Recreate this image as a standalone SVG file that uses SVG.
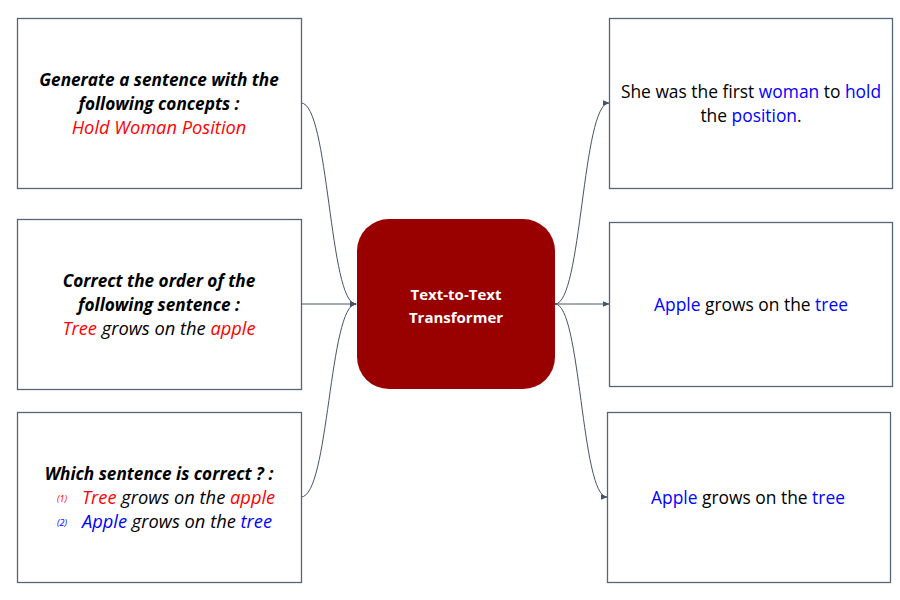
<svg xmlns="http://www.w3.org/2000/svg" width="900" height="600" viewBox="0 0 900 600">
<defs>
<style>
.box{fill:#fff;stroke:#56657a;stroke-width:1.3}
.t{font-family:"Open Sans","Liberation Sans",sans-serif;font-size:17.4px;fill:#000}
.q{font-family:"Open Sans","Liberation Sans",sans-serif;font-size:18.3px;font-style:italic;fill:#000}
.b{font-weight:bold;font-size:17.2px}
.r{fill:#ff0000}
.bl{fill:#0000ff}
.c{fill:none;stroke:#44546a;stroke-width:1}
</style>
<marker id="ah" viewBox="0 0 10 10" refX="9" refY="5" markerWidth="7" markerHeight="7" orient="auto" markerUnits="userSpaceOnUse">
<path d="M0,1 L10,5 L0,9 z" fill="#44546a"/>
</marker>
</defs>
<rect width="900" height="600" fill="#fff"/>
<g id="connectors">
<path class="c" d="M301,103 C329,103 329,304 356,304" marker-end="url(#ah)"/>
<path class="c" d="M301,304 L356,304" marker-end="url(#ah)"/>
<path class="c" d="M301,497 C329,497 329,304 356,304" marker-end="url(#ah)"/>
<path class="c" d="M555,304 C582,304 582,103 609,103" marker-end="url(#ah)"/>
<path class="c" d="M555,304 L609,304" marker-end="url(#ah)"/>
<path class="c" d="M555,304 C581,304 581,497 607,497" marker-end="url(#ah)"/>
</g>
<g id="in1">
<rect class="box" x="17.5" y="18.5" width="284" height="170"/>
<text class="q b" x="159" y="86" text-anchor="middle">Generate a sentence with the</text>
<text class="q b" x="159" y="110" text-anchor="middle">following concepts :</text>
<text class="q r" x="159" y="134" text-anchor="middle">Hold Woman Position</text>
</g>
<g id="in2">
<rect class="box" x="17.5" y="219.5" width="284" height="170"/>
<text class="q b" x="159" y="287" text-anchor="middle">Correct the order of the</text>
<text class="q b" x="159" y="311" text-anchor="middle">following sentence :</text>
<text class="q" x="159" y="335" text-anchor="middle"><tspan class="r">Tree</tspan> grows on the <tspan class="r">apple</tspan></text>
</g>
<g id="in3">
<rect class="box" x="17.5" y="412.5" width="284" height="170"/>
<text class="q b" x="159" y="480" text-anchor="middle">Which sentence is correct ? :</text>
<text class="q r" x="57" y="502" style="font-size:9px">(1)</text>
<text class="q" x="82" y="504"><tspan class="r">Tree</tspan> grows on the <tspan class="r">apple</tspan></text>
<text class="q bl" x="57" y="526" style="font-size:9px">(2)</text>
<text class="q" x="82" y="528"><tspan class="bl">Apple</tspan> grows on the <tspan class="bl">tree</tspan></text>
</g>
<g id="model">
<rect x="357" y="219" width="198" height="170" rx="32" fill="#990000"/>
<text class="t b" x="456" y="300" text-anchor="middle" style="font-size:15px;fill:#fff">Text-to-Text</text>
<text class="t b" x="456" y="323" text-anchor="middle" style="font-size:15px;fill:#fff">Transformer</text>
</g>
<g id="out1">
<rect class="box" x="609.5" y="18.5" width="283" height="170"/>
<text class="t" x="751" y="98" text-anchor="middle">She was the first <tspan class="bl">woman</tspan> to <tspan class="bl">hold</tspan></text>
<text class="t" x="751" y="122" text-anchor="middle">the <tspan class="bl">position</tspan>.</text>
</g>
<g id="out2">
<rect class="box" x="609.5" y="222.5" width="283" height="164"/>
<text class="t" x="751" y="311" text-anchor="middle"><tspan class="bl">Apple</tspan> grows on the <tspan class="bl">tree</tspan></text>
</g>
<g id="out3">
<rect class="box" x="607.5" y="412.5" width="283" height="170"/>
<text class="t" x="748" y="504" text-anchor="middle"><tspan class="bl">Apple</tspan> grows on the <tspan class="bl">tree</tspan></text>
</g>
</svg>
